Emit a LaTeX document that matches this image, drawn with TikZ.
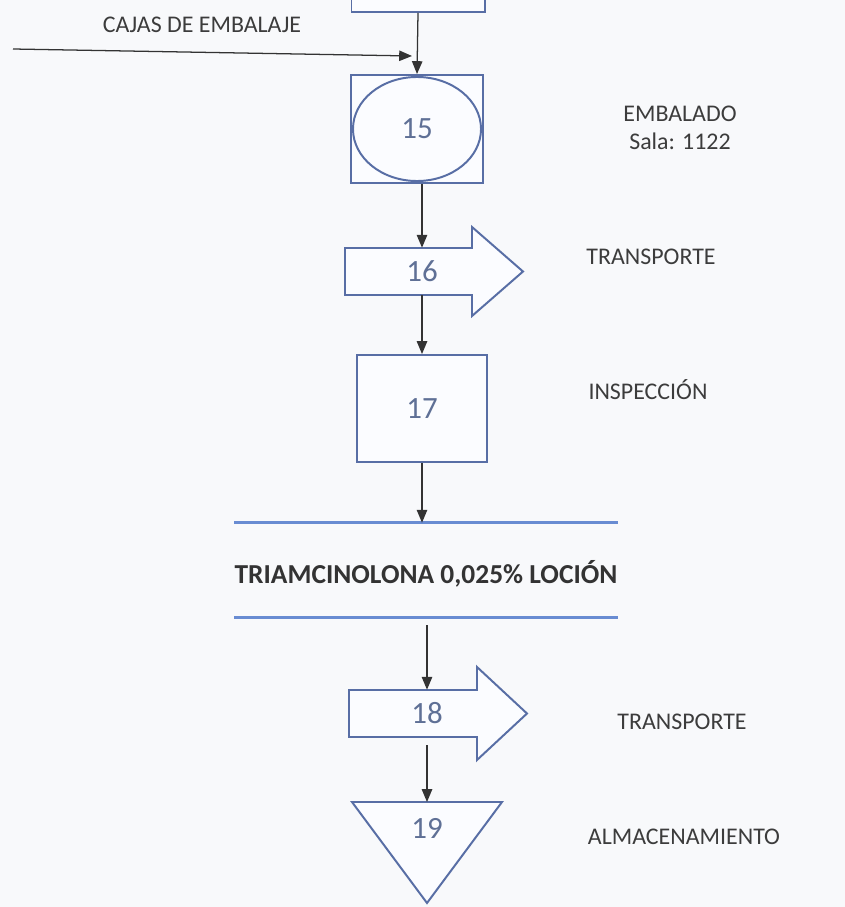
\documentclass[tikz,border=0pt]{standalone}
\usepackage{fontspec}
\setmainfont{Carlito}
\usepackage{xcolor}
\usetikzlibrary{arrows.meta,positioning,calc,shapes.geometric}

\definecolor{shapeblue}{RGB}{88,110,165}
\definecolor{ruleblue}{RGB}{105,140,210}
\definecolor{numgray}{RGB}{95,112,150}
\definecolor{labelgray}{RGB}{60,60,60}
\definecolor{paper}{RGB}{248,249,251}
\definecolor{shapefill}{RGB}{251,252,255}

\begin{document}
\begin{tikzpicture}[x=0.025cm, y=-0.025cm,
  box/.style={draw=shapeblue, line width=1.4pt, fill=shapefill, inner sep=0pt},
  num/.style={font=\fontsize{22}{22}\selectfont, text=numgray},
  lbl/.style={font=\fontsize{17}{19.5}\selectfont, text=labelgray, align=center},
  flow/.style={draw=black!80, line width=0.9pt, -{Triangle[length=0.32cm, width=0.26cm]}},
  rule/.style={draw=ruleblue, line width=1.8pt}]

% paper
\fill[paper] (0,0) rectangle (845,907);
\clip (0,0) rectangle (845,907);

% previous step (cut off at the top)
\node[box, minimum width=3.325cm, minimum height=1.5cm] (b14) at (418,-18) {};

% packing boxes input
\coordinate (cajas) at (13,49);
\coordinate (merge) at (412,56);
\node[lbl] (cajaslbl) at (202,25) {CAJAS DE EMBALAJE};
\draw[flow] (cajas) -- (merge);

% 15 - embalado
\node[box, minimum width=3.3cm, minimum height=2.7cm] (b15) at (417,129) {};
\node[draw=shapeblue, line width=1.4pt, ellipse, inner sep=0pt,
      minimum width=3.2cm, minimum height=2.6cm, num] (e15) at (b15) {15};
\draw[flow] (b14.south) -- (b15.north);

% 16 - transporte
\draw[box] (345,248) -- (472,248) -- (472,227) -- (523,271.5) -- (472,316)
  -- (472,295) -- (345,295) -- cycle;
\node[num, inner sep=0pt, minimum height=1.175cm] (a16) at (422,271.5) {16};
\draw[flow] (a16 |- b15.south) -- (a16.north);

% 17 - inspeccion
\node[box, num, minimum width=3.25cm, minimum height=2.675cm] (b17) at (422,408.5) {17};
\draw[flow] (a16.south) -- (b17.north);

% product title between rules
\node[font=\bfseries\fontsize{19.5}{19.5}\selectfont, text=black!80, inner sep=0pt,
      text height=19pt, text depth=0pt,
      minimum width=9.55cm, minimum height=2.35cm] (title) at (426,570)
  {TRIAMCINOLONA 0,025\% LOCIÓN};
\draw[rule] (title.north west) -- (title.north east);
\draw[rule] (title.south west) -- (title.south east);
\draw[flow] (b17.south) -- (b17.south |- title.north);

% 18 - transporte
\draw[box] (349,690) -- (477,690) -- (477,667) -- (527,713.5) -- (477,760)
  -- (477,737) -- (349,737) -- cycle;
\node[num, inner sep=0pt, minimum height=1.175cm] (a18) at (427,713.5) {18};
\draw[flow, shorten <=0.2cm] (a18 |- title.south) -- (a18.north);

% 19 - almacenamiento
\coordinate (t19) at (427,802);
\draw[box] (352,802) -- (502,802) -- (427,903) -- cycle;
\node[num] (a19) at (427,828) {19};
\draw[flow, shorten <=0.2cm] (a18.south) -- (t19);

% activity labels
\node[lbl] (l15) at (680,128) {EMBALADO\\Sala: 1122};
\node[lbl] (l16) at (651,257) {TRANSPORTE};
\node[lbl] (l17) at (648,390) {INSPECCIÓN};
\node[lbl] (l18) at (682,722) {TRANSPORTE};
\node[lbl] (l19) at (684,837) {ALMACENAMIENTO};

\end{tikzpicture}
\end{document}
